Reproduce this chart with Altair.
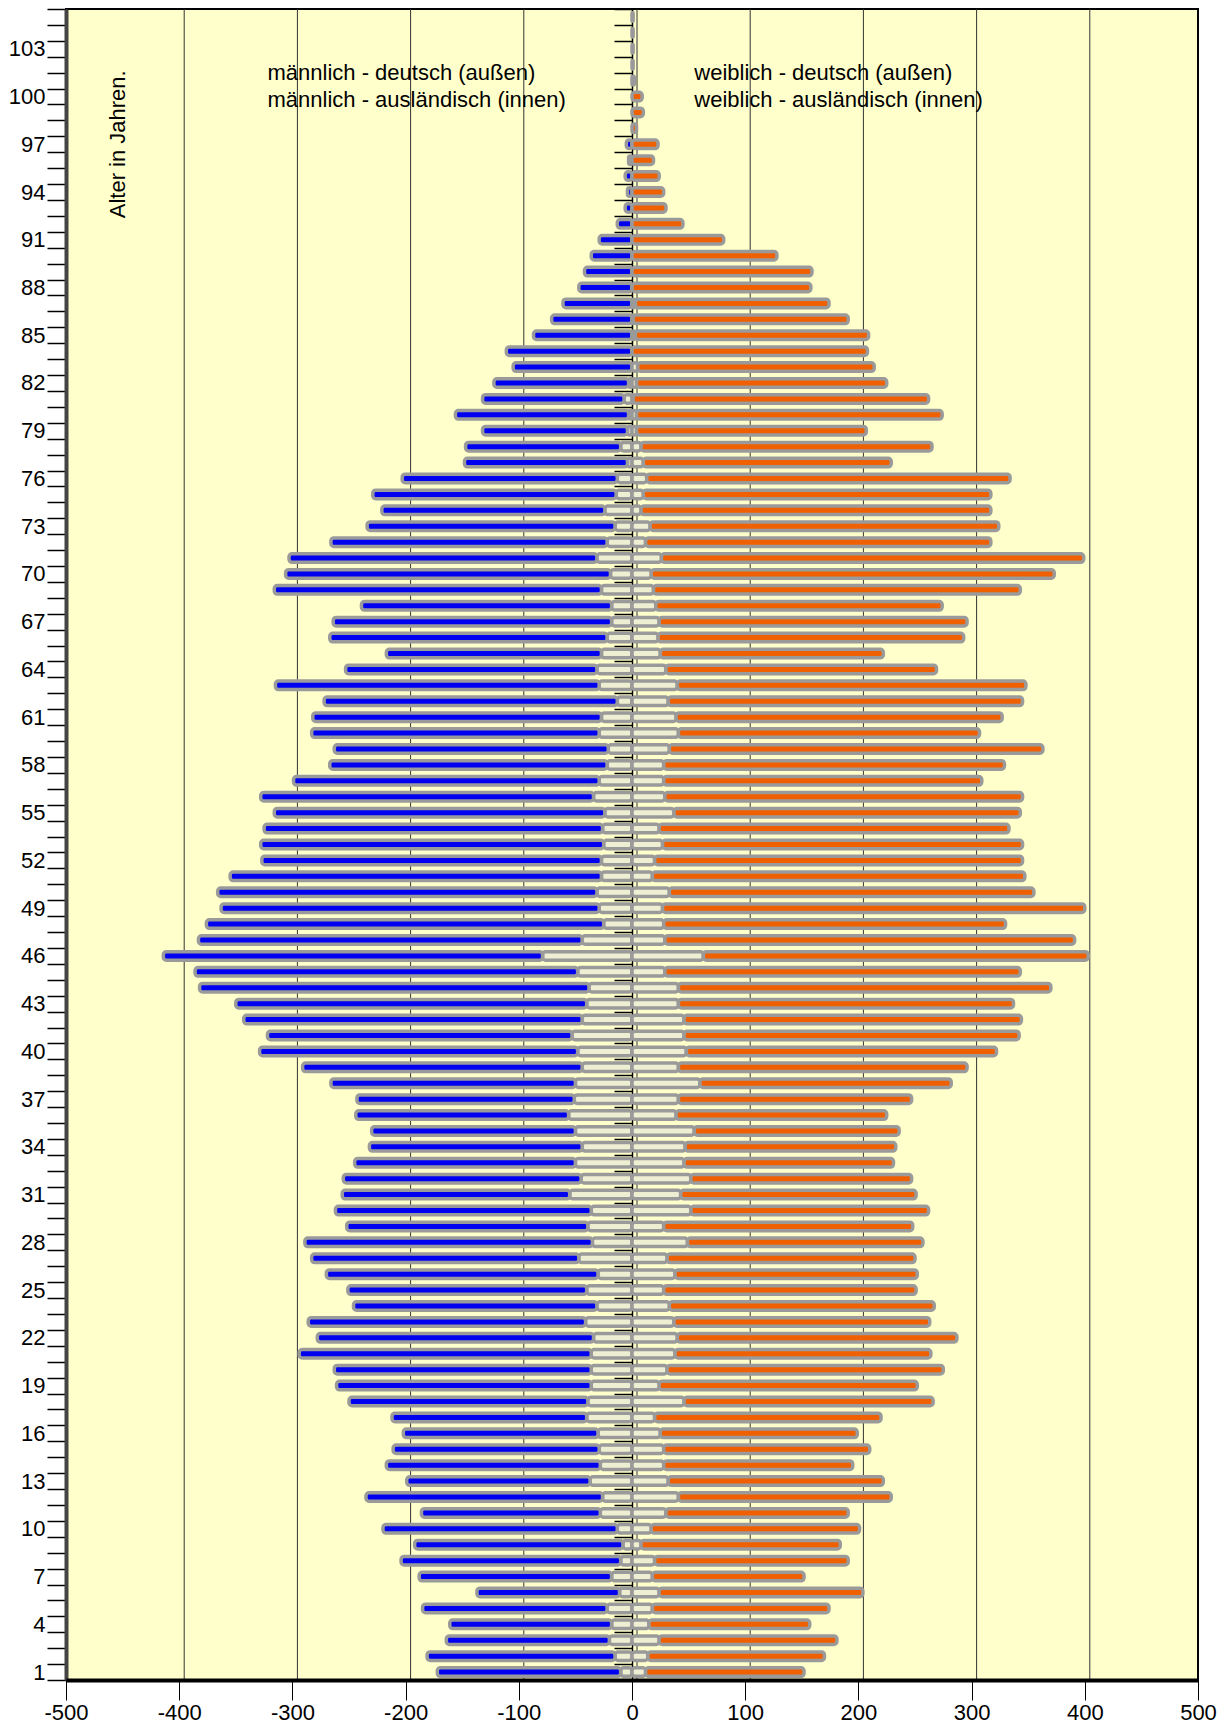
import altair as alt
import pandas as pd

# ---------------- data ----------------
ages = list(range(1, 106))

male_german = [
    162, 166, 144, 143, 163, 126, 170, 194, 184, 207,
    158, 209, 162, 189, 182, 172, 172, 211, 225, 227,
    258, 244, 245, 215, 211, 240, 236, 254, 213, 226,
    201, 210, 195, 188, 180, 188, 192, 216, 247, 281,
    269, 299, 310, 344, 338, 335, 339, 351, 334, 335,
    328, 300, 303, 299, 292, 294, 270, 245, 242, 254,
    255, 259, 286, 222, 190, 245, 246, 221, 289, 287,
    272, 244, 219, 197, 215, 190, 144, 137, 128, 153,
    125, 119, 105, 111, 87, 71, 61, 47, 42, 36,
    29, 13, 6, 4, 6, 3, 5, 0, 0, 0,
    0, 0, 0, 0, 0,
]
male_foreign = [
    10, 15, 20, 18, 22, 11, 18, 10, 8, 13,
    28, 26, 37, 28, 29, 30, 40, 39, 36, 36,
    36, 34, 41, 31, 40, 30, 47, 35, 39, 36,
    55, 45, 50, 44, 50, 56, 51, 50, 44, 48,
    53, 44, 40, 38, 48, 79, 44, 25, 29, 31,
    27, 27, 25, 26, 24, 34, 29, 22, 21, 29,
    27, 13, 29, 31, 27, 22, 18, 18, 27, 19,
    31, 22, 15, 24, 14, 13, 4, 10, 4, 3,
    7, 3, 0, 0, 0, 0, 0, 0, 0, 0,
    0, 0, 0, 0, 0, 0, 0, 0, 0, 0,
    0, 0, 0, 0, 0,
]
female_german = [
    140, 156, 157, 142, 156, 180, 134, 171, 176, 184,
    161, 188, 190, 167, 182, 174, 200, 220, 228, 244,
    226, 247, 226, 234, 223, 214, 219, 208, 220, 210,
    208, 195, 185, 186, 181, 186, 206, 222, 255, 274,
    296, 298, 296, 329, 314, 340, 362, 302, 373, 322,
    329, 325, 318, 309, 306, 316, 281, 301, 330, 266,
    288, 313, 308, 239, 197, 270, 272, 253, 324, 356,
    373, 305, 308, 309, 307, 321, 219, 257, 203, 270,
    261, 221, 209, 208, 206, 190, 171, 158, 159, 128,
    81, 45, 30, 28, 24, 19, 23, 4, 10, 9,
    2, 1, 1, 1, 1,
]
female_foreign = [
    12, 14, 24, 15, 18, 24, 18, 20, 8, 17,
    30, 41, 32, 28, 28, 25, 20, 46, 24, 31,
    38, 40, 37, 33, 28, 38, 31, 49, 28, 52,
    43, 52, 46, 47, 55, 39, 41, 60, 41, 48,
    46, 46, 41, 41, 29, 63, 29, 28, 27, 33,
    18, 20, 27, 24, 37, 29, 28, 28, 33, 41,
    39, 32, 40, 30, 25, 23, 24, 21, 19, 17,
    26, 12, 16, 8, 10, 13, 10, 8, 4, 4,
    1, 4, 5, 0, 3, 1, 3, 0, 0, 0,
    0, 0, 0, 0, 0, 0, 0, 0, 0, 0,
    0, 0, 0, 0, 0,
]

x_ticks = [-500, -400, -300, -200, -100, 0, 100, 200, 300, 400, 500]
grid_values = [-400, -300, -200, -100, 0, 100, 200, 300, 400]

male_lines = ["männlich - deutsch (außen)", "männlich - ausländisch (innen)"]
female_lines = ["weiblich - deutsch (außen)", "weiblich - ausländisch (innen)"]
y_title = "Alter in Jahren."

# ---------------- build segment tables ----------------
rows_m, rows_f = [], []
for a, mg, mf, fg, ff in zip(ages, male_german, male_foreign, female_german, female_foreign):
    segs = [
        ("m_foreign", 0, -mf, rows_m),
        ("m_german", -mf, -(mf + mg), rows_m),
        ("f_foreign", 0, ff, rows_f),
        ("f_german", ff, ff + fg, rows_f),
    ]
    for seg, s, e, lst in segs:
        if s != e:
            lst.append({"age": a, "seg": seg, "start": s, "end": e})
df_m = pd.DataFrame(rows_m)
df_f = pd.DataFrame(rows_f)

FONT = "Liberation Sans"
xscale = alt.Scale(domain=[-500, 500], nice=False, zero=False)
yscale = alt.Scale(domain=ages[::-1], paddingInner=0, paddingOuter=0)
cscale = alt.Scale(
    domain=["m_foreign", "m_german", "f_foreign", "f_german"],
    range=["#eeeed2", "#0000f0", "#eeeed2", "#f06000"],
)

xaxis = alt.Axis(
    values=x_ticks, title=None, grid=False, tickSize=20, tickColor="black",
    tickWidth=1, domainColor="black", domainWidth=4, labelFontSize=22,
    labelFont=FONT, labelColor="black", labelPadding=2, labelFlush=False,
    orient="bottom", zindex=1, labelExpr="'' + datum.value",
)
yaxis_main = alt.Axis(
    orient="left", title=None, tickBand="extent", tickSize=19, tickColor="black",
    tickWidth=1.5, domainColor="#444444", domainWidth=4, labelFontSize=22,
    labelFont=FONT, labelColor="black", labelPadding=2, labelOverlap=False,
    labelBaseline="middle", grid=False,
    labelExpr="(datum.value - 1) % 3 == 0 ? datum.label : ''",
)
yaxis_center = alt.Axis(
    orient="left", offset=-566, title=None, labels=False, tickBand="extent",
    tickSize=18, tickColor="black", tickWidth=1.5, domainColor="black",
    domainWidth=1.5, grid=False,
)

bar_style = dict(height=8.5, stroke="#9a9a9a", strokeWidth=3.5, cornerRadius=3)

grid = alt.Chart(pd.DataFrame({"v": grid_values})).mark_rule(
    color="#333333", strokeWidth=1, xOffset=5
).encode(x=alt.X("v:Q", scale=xscale, axis=xaxis))

bars_m = alt.Chart(df_m).mark_bar(**bar_style).encode(
    x=alt.X("start:Q", scale=xscale, axis=xaxis),
    x2="end:Q",
    y=alt.Y("age:O", scale=yscale, axis=yaxis_main),
    color=alt.Color("seg:N", scale=cscale, legend=None),
)
bars_f = alt.Chart(df_f).mark_bar(**bar_style).encode(
    x=alt.X("start:Q", scale=xscale, axis=xaxis),
    x2="end:Q",
    y=alt.Y("age:O", scale=yscale, axis=yaxis_center),
    color=alt.Color("seg:N", scale=cscale, legend=None),
)

ann1 = pd.DataFrame({"text": [male_lines[0], female_lines[0]], "xv": [-322, 55], "age": [102, 102]})
ann2 = pd.DataFrame({"text": [male_lines[1], female_lines[1]], "xv": [-322, 55], "age": [100, 100]})
ann3 = pd.DataFrame({"text": [y_title], "xv": [-454], "age": [97]})

def text_layer(df, **kw):
    return alt.Chart(df).mark_text(
        font=FONT, fontSize=22, color="black", **kw
    ).encode(
        x=alt.X("xv:Q", scale=xscale, axis=xaxis),
        y=alt.Y("age:O", scale=yscale, axis=None),
        text="text:N",
    )

t1 = text_layer(ann1, align="left", baseline="middle", dy=8)
t2 = text_layer(ann2, align="left", baseline="middle", dy=3)
t3 = text_layer(ann3, align="center", baseline="middle", angle=270)

chart = alt.layer(grid, bars_m, bars_f, t1, t2, t3).resolve_axis(
    y="independent"
).properties(
    width=1132, height=1671,
    autosize=alt.AutoSizeParams(type="none"),
    padding={"left": 58, "top": 1, "right": 20, "bottom": 44},
    background="white",
).configure_view(
    fill="#ffffcc", stroke="black", strokeWidth=2
)

chart.save("out.html", embed_options={"renderer": "svg", "actions": False})
